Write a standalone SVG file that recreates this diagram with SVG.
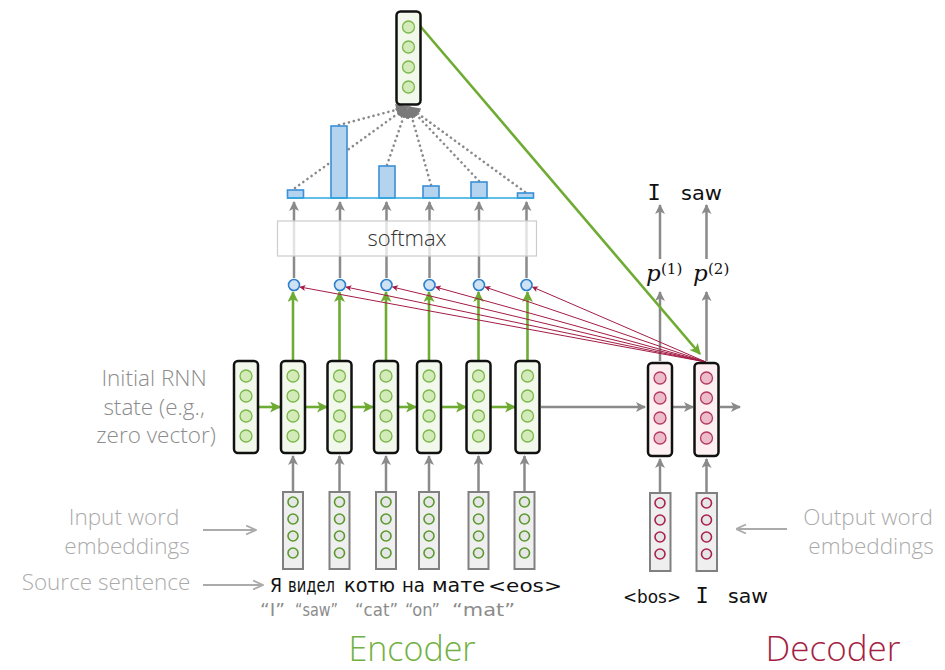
<svg xmlns="http://www.w3.org/2000/svg" width="945" height="670" viewBox="0 0 945 670">
  <style>
    .rnn { fill: #f2f9ec; stroke: #111; stroke-width: 2.5; }
    .dec { fill: #fcf0f3; stroke: #111; stroke-width: 2.5; }
    .emb { fill: #efefef; stroke: #808080; stroke-width: 2; }
    .gc { fill: #d3ebb8; stroke: #7cb74c; stroke-width: 1.3; }
    .rc { fill: #ecbccb; stroke: #b23a62; stroke-width: 1.3; }
    .ge { fill: #e6e6e6; stroke: #5a9a2c; stroke-width: 1.6; }
    .re { fill: #e6e6e6; stroke: #a8224c; stroke-width: 1.6; }
    .score { fill: #cfe2f4; stroke: #2c7fcb; stroke-width: 1.6; }
    .bar { fill: #b4d3ef; stroke: #3a8fd8; stroke-width: 1.6; }
    .gray { stroke: #8a8a8a; stroke-width: 2.5; fill: none; marker-end: url(#ahGray); }
    .green { stroke: #6eab33; stroke-width: 2.6; fill: none; marker-end: url(#ahGreen); }
    .red { stroke: #a31c45; stroke-width: 1; fill: none; marker-end: url(#ahRed); }
    .dots { stroke: #8a8a8a; stroke-width: 2.6; stroke-dasharray: 0.1 5; stroke-linecap: round; fill: none; marker-end: url(#ahDot); }
    .lbl { font-family: "Open Sans", "Liberation Sans", sans-serif; font-weight: 300; }
    .hand { font-family: "DejaVu Sans", "Liberation Sans", sans-serif; }
    .mono { font-family: "DejaVu Sans Mono", "Liberation Mono", monospace; }
  </style>
  <defs>
    <marker id="ahGray" viewBox="0 0 10 10" refX="9" refY="5" markerWidth="11" markerHeight="10" markerUnits="userSpaceOnUse" orient="auto">
      <path d="M0,0 L10,5 L0,10 L2.5,5 Z" fill="#8a8a8a"/>
    </marker>
    <marker id="ahGreen" viewBox="0 0 10 10" refX="9" refY="5" markerWidth="12" markerHeight="11" markerUnits="userSpaceOnUse" orient="auto">
      <path d="M0,0 L10,5 L0,10 L2.5,5 Z" fill="#6eab33"/>
    </marker>
    <marker id="ahRed" viewBox="0 0 10 10" refX="9" refY="5" markerWidth="8" markerHeight="6" markerUnits="userSpaceOnUse" orient="auto">
      <path d="M0,0 L10,5 L0,10 L2.5,5 Z" fill="#a31c45"/>
    </marker>
    <marker id="ahDot" viewBox="0 0 10 10" refX="9" refY="5" markerWidth="13" markerHeight="12" markerUnits="userSpaceOnUse" orient="auto">
      <path d="M0,0 L10,5 L0,10 Z" fill="#7a7a7a"/>
    </marker>
    <marker id="ahLbl" viewBox="0 0 10 10" refX="9" refY="5" markerWidth="11" markerHeight="10" markerUnits="userSpaceOnUse" orient="auto">
      <path d="M0,0.5 L10,5 L0,9.5" fill="none" stroke="#ababab" stroke-width="1.8"/>
    </marker>
    <g id="gcol">
      <circle class="gc" cx="0" cy="0" r="6"/>
      <circle class="gc" cx="0" cy="20" r="6"/>
      <circle class="gc" cx="0" cy="40" r="6"/>
      <circle class="gc" cx="0" cy="60" r="6"/>
    </g>
    <g id="rcol">
      <circle class="rc" cx="0" cy="0" r="6"/>
      <circle class="rc" cx="0" cy="20" r="6"/>
      <circle class="rc" cx="0" cy="40" r="6"/>
      <circle class="rc" cx="0" cy="60" r="6"/>
    </g>
    <g id="gemb">
      <circle class="ge" cx="0" cy="0" r="5"/>
      <circle class="ge" cx="0" cy="17" r="5"/>
      <circle class="ge" cx="0" cy="34" r="5"/>
      <circle class="ge" cx="0" cy="51" r="5"/>
    </g>
    <g id="remb">
      <circle class="re" cx="0" cy="0" r="5"/>
      <circle class="re" cx="0" cy="17" r="5"/>
      <circle class="re" cx="0" cy="34" r="5"/>
      <circle class="re" cx="0" cy="51" r="5"/>
    </g>
  </defs>

  <rect width="945" height="670" fill="#ffffff"/>

  <!-- connectors -->
  <g id="connectors">
    <!-- encoder recurrence -->
    <line class="green" x1="258" y1="407" x2="280" y2="407"/>
    <line class="green" x1="305" y1="407" x2="327" y2="407"/>
    <line class="green" x1="351" y1="407" x2="373" y2="407"/>
    <line class="green" x1="398" y1="407" x2="416" y2="407"/>
    <line class="green" x1="441" y1="407" x2="466" y2="407"/>
    <line class="green" x1="491" y1="407" x2="515" y2="407"/>
    <!-- encoder states up to scores -->
    <line class="green" x1="293" y1="361" x2="293" y2="292"/>
    <line class="green" x1="339.5" y1="361" x2="339.5" y2="292"/>
    <line class="green" x1="386" y1="361" x2="386" y2="292"/>
    <line class="green" x1="429" y1="361" x2="429" y2="292"/>
    <line class="green" x1="478.5" y1="361" x2="478.5" y2="292"/>
    <line class="green" x1="527.5" y1="361" x2="527.5" y2="292"/>
    <!-- embeddings up to encoder states -->
    <line class="gray" x1="293" y1="491" x2="293" y2="456"/>
    <line class="gray" x1="339.5" y1="491" x2="339.5" y2="456"/>
    <line class="gray" x1="386" y1="491" x2="386" y2="456"/>
    <line class="gray" x1="429" y1="491" x2="429" y2="456"/>
    <line class="gray" x1="478.5" y1="491" x2="478.5" y2="456"/>
    <line class="gray" x1="524.5" y1="491" x2="524.5" y2="456"/>
    <!-- decoder embeddings up -->
    <line class="gray" x1="660" y1="492" x2="660" y2="459"/>
    <line class="gray" x1="706.5" y1="492" x2="706.5" y2="459"/>
    <!-- encoder to decoder and decoder recurrence -->
    <line class="gray" x1="541" y1="407" x2="645" y2="407"/>
    <line class="gray" x1="673" y1="407" x2="693" y2="407"/>
    <line class="gray" x1="720" y1="407" x2="740" y2="407"/>
    <!-- decoder outputs -->
    <line class="gray" x1="660" y1="361" x2="660" y2="292"/>
    <line class="gray" x1="706.5" y1="361" x2="706.5" y2="292"/>
    <line class="gray" x1="660" y1="259" x2="660" y2="205"/>
    <line class="gray" x1="706.5" y1="259" x2="706.5" y2="205"/>
    <!-- scores through softmax -->
    <line class="gray" x1="294" y1="278" x2="294" y2="202"/>
    <line class="gray" x1="340" y1="278" x2="340" y2="202"/>
    <line class="gray" x1="386.5" y1="278" x2="386.5" y2="202"/>
    <line class="gray" x1="429.5" y1="278" x2="429.5" y2="202"/>
    <line class="gray" x1="479" y1="278" x2="479" y2="202"/>
    <line class="gray" x1="526.5" y1="278" x2="526.5" y2="202"/>
    <!-- decoder state to every score -->
    <line class="red" x1="706" y1="362" x2="300" y2="287"/>
    <line class="red" x1="706" y1="362" x2="346" y2="287"/>
    <line class="red" x1="706" y1="362" x2="392.5" y2="287"/>
    <line class="red" x1="706" y1="362" x2="435.5" y2="287"/>
    <line class="red" x1="706" y1="362" x2="485" y2="287"/>
    <line class="red" x1="706" y1="362" x2="532.5" y2="287"/>
    <!-- weighted sum into context vector -->
    <line class="dots" x1="295" y1="188" x2="407" y2="107"/>
    <line class="dots" x1="339" y1="125" x2="407" y2="107"/>
    <line class="dots" x1="387" y1="165" x2="407" y2="107"/>
    <line class="dots" x1="431" y1="185" x2="409" y2="107"/>
    <line class="dots" x1="479" y1="181" x2="409" y2="107"/>
    <line class="dots" x1="525" y1="192" x2="409" y2="107"/>
    <!-- context vector to decoder -->
    <line class="green" x1="409" y1="13" x2="700" y2="354"/>
    <!-- label pointers -->
    <line x1="203" y1="530" x2="255" y2="530" stroke="#ababab" stroke-width="2" marker-end="url(#ahLbl)"/>
    <line x1="203" y1="585" x2="262" y2="585" stroke="#ababab" stroke-width="2" marker-end="url(#ahLbl)"/>
    <line x1="787" y1="529" x2="737" y2="529" stroke="#ababab" stroke-width="2" marker-end="url(#ahLbl)"/>
  </g>

  <!-- attention weights -->
  <g id="weights">
    <rect class="bar" x="287.5" y="190" width="16" height="8"/>
    <rect class="bar" x="331" y="126" width="16" height="72"/>
    <rect class="bar" x="379" y="166" width="16" height="32"/>
    <rect class="bar" x="423" y="186" width="16" height="12"/>
    <rect class="bar" x="471" y="182" width="16" height="16"/>
    <rect class="bar" x="517.5" y="193" width="16" height="5"/>
    <line x1="287" y1="198" x2="534" y2="198" stroke="#2ba8e2" stroke-width="1.6"/>
  </g>

  <g id="softmax">
    <rect x="277.5" y="221" width="259" height="35" fill="#ffffff" fill-opacity="0.75" stroke="#cccccc" stroke-width="1.2"/>
    <text class="lbl" x="407" y="246" font-size="22" fill="#333333" text-anchor="middle">softmax</text>
  </g>

  <g id="scores">
    <circle class="score" cx="294" cy="285" r="5.5"/>
    <circle class="score" cx="340" cy="285" r="5.5"/>
    <circle class="score" cx="386.5" cy="285" r="5.5"/>
    <circle class="score" cx="429.5" cy="285" r="5.5"/>
    <circle class="score" cx="479" cy="285" r="5.5"/>
    <circle class="score" cx="526.5" cy="285" r="5.5"/>
  </g>

  <!-- context vector -->
  <g id="context">
    <rect class="rnn" x="396.5" y="11.5" width="24" height="93" rx="4"/>
    <use href="#gcol" x="408.5" y="27"/>
  </g>

  <!-- encoder states -->
  <g id="enc0"><rect class="rnn" x="234" y="361" width="24" height="92" rx="4"/><use href="#gcol" x="246" y="376"/></g>
  <g id="enc1"><rect class="rnn" x="281" y="361" width="24" height="92" rx="4"/><use href="#gcol" x="293" y="376"/></g>
  <g id="enc2"><rect class="rnn" x="327.5" y="361" width="24" height="92" rx="4"/><use href="#gcol" x="339.5" y="376"/></g>
  <g id="enc3"><rect class="rnn" x="374" y="361" width="24" height="92" rx="4"/><use href="#gcol" x="386" y="376"/></g>
  <g id="enc4"><rect class="rnn" x="417" y="361" width="24" height="92" rx="4"/><use href="#gcol" x="429" y="376"/></g>
  <g id="enc5"><rect class="rnn" x="466.5" y="361" width="24" height="92" rx="4"/><use href="#gcol" x="478.5" y="376"/></g>
  <g id="enc6"><rect class="rnn" x="515.5" y="361" width="24" height="92" rx="4"/><use href="#gcol" x="527.5" y="376"/></g>

  <!-- decoder states -->
  <g id="dec1"><rect class="dec" x="648" y="363" width="24" height="93" rx="4"/><use href="#rcol" x="660" y="378"/></g>
  <g id="dec2"><rect class="dec" x="694.5" y="363" width="24" height="93" rx="4"/><use href="#rcol" x="706.5" y="378"/></g>

  <!-- source embeddings -->
  <g id="emb1"><rect class="emb" x="283" y="492" width="20" height="77"/><use href="#gemb" x="293" y="502"/></g>
  <g id="emb2"><rect class="emb" x="329.5" y="492" width="20" height="77"/><use href="#gemb" x="339.5" y="502"/></g>
  <g id="emb3"><rect class="emb" x="376" y="492" width="20" height="77"/><use href="#gemb" x="386" y="502"/></g>
  <g id="emb4"><rect class="emb" x="419" y="492" width="20" height="77"/><use href="#gemb" x="429" y="502"/></g>
  <g id="emb5"><rect class="emb" x="468.5" y="492" width="20" height="77"/><use href="#gemb" x="478.5" y="502"/></g>
  <g id="emb6"><rect class="emb" x="514.5" y="492" width="20" height="77"/><use href="#gemb" x="524.5" y="502"/></g>

  <!-- target embeddings -->
  <g id="demb1"><rect class="emb" x="650" y="493" width="20.5" height="78"/><use href="#remb" x="660" y="503"/></g>
  <g id="demb2"><rect class="emb" x="696.5" y="493" width="20.5" height="78"/><use href="#remb" x="706.5" y="503"/></g>

  <!-- decoder outputs -->
  <g id="outputs">
    <text class="mono" x="654" y="200" font-size="22" fill="#111" text-anchor="middle">I</text>
    <text class="hand" x="681" y="200" font-size="20" fill="#111" textLength="41" lengthAdjust="spacingAndGlyphs">saw</text>
    <text x="646" y="281" font-family="'DejaVu Serif', 'Liberation Serif', serif" font-style="italic" font-size="23" fill="#111">p</text>
    <text x="661" y="274" font-family="'DejaVu Serif', 'Liberation Serif', serif" font-size="15" fill="#111">(1)</text>
    <text x="693" y="281" font-family="'DejaVu Serif', 'Liberation Serif', serif" font-style="italic" font-size="23" fill="#111">p</text>
    <text x="708" y="274" font-family="'DejaVu Serif', 'Liberation Serif', serif" font-size="15" fill="#111">(2)</text>
  </g>

  <!-- side labels -->
  <g id="labels">
    <text class="lbl" font-size="22.5" fill="#8c8c8c" text-anchor="middle">
      <tspan x="157" y="386">Initial RNN</tspan>
      <tspan x="157" y="415">state (e.g.,</tspan>
      <tspan x="156" y="443">zero vector)</tspan>
    </text>
    <text class="lbl" font-size="22.5" fill="#ababab" text-anchor="middle">
      <tspan x="127" y="525">Input word</tspan>
      <tspan x="127" y="554">embeddings</tspan>
    </text>
    <text class="lbl" x="106" y="590" font-size="22.5" fill="#ababab" text-anchor="middle">Source sentence</text>
    <text class="lbl" font-size="22.5" fill="#ababab" text-anchor="middle">
      <tspan x="871" y="525">Output word</tspan>
      <tspan x="871" y="554">embeddings</tspan>
    </text>
  </g>

  <!-- sentences -->
  <g id="source" fill="#111">
    <text class="hand" x="270" y="592" font-size="19" textLength="12" lengthAdjust="spacingAndGlyphs">Я</text>
    <text class="hand" x="288" y="592" font-size="19" textLength="47" lengthAdjust="spacingAndGlyphs">видел</text>
    <text class="hand" x="344" y="592" font-size="19" textLength="51" lengthAdjust="spacingAndGlyphs">котю</text>
    <text class="hand" x="402" y="592" font-size="19" textLength="23" lengthAdjust="spacingAndGlyphs">на</text>
    <text class="hand" x="432" y="592" font-size="19" textLength="53" lengthAdjust="spacingAndGlyphs">мате</text>
    <text class="hand" x="488" y="592" font-size="17" textLength="74" lengthAdjust="spacingAndGlyphs">&lt;eos&gt;</text>
  </g>
  <g id="gloss" fill="#8c8c8c">
    <text class="hand" x="260" y="616" font-size="17" textLength="25" lengthAdjust="spacingAndGlyphs">“I”</text>
    <text class="hand" x="295" y="616" font-size="17" textLength="43" lengthAdjust="spacingAndGlyphs">“saw”</text>
    <text class="hand" x="355" y="616" font-size="17" textLength="43" lengthAdjust="spacingAndGlyphs">“cat”</text>
    <text class="hand" x="405" y="616" font-size="17" textLength="35" lengthAdjust="spacingAndGlyphs">“on”</text>
    <text class="hand" x="452" y="616" font-size="17" textLength="63" lengthAdjust="spacingAndGlyphs">“mat”</text>
  </g>
  <g id="target" fill="#111">
    <text class="hand" x="623" y="603" font-size="18" textLength="58" lengthAdjust="spacingAndGlyphs">&lt;bos&gt;</text>
    <text class="mono" x="702" y="603" font-size="22" text-anchor="middle">I</text>
    <text class="hand" x="728" y="603" font-size="20" textLength="40" lengthAdjust="spacingAndGlyphs">saw</text>
  </g>

  <!-- section titles -->
  <text class="lbl" x="412" y="661" font-size="34" fill="#72b043" text-anchor="middle">Encoder</text>
  <text class="lbl" x="833" y="661" font-size="35" fill="#a51f45" text-anchor="middle">Decoder</text>
</svg>
